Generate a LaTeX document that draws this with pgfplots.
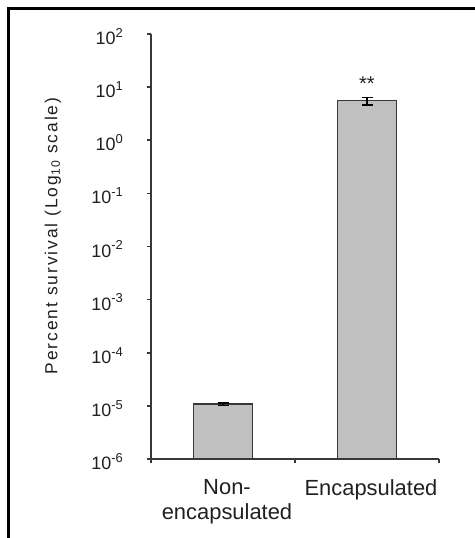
\documentclass[border=0pt]{standalone}
\usepackage{fontspec}
\setmainfont{Liberation Sans}
\newfontfamily\widefont[LetterSpace=11]{Liberation Sans}
\usepackage{pgfplots}
\pgfplotsset{compat=1.18}
\definecolor{barfill}{HTML}{C0C0C0}
\definecolor{axisgray}{HTML}{383838}
\definecolor{textgray}{HTML}{202020}
\newcommand{\tl}[1]{\hbox{\fontsize{18}{20}\selectfont\color{textgray}10\raisebox{0.4em}{\fontsize{13}{14}\selectfont #1}}}
\begin{document}
\begin{tikzpicture}
\useasboundingbox (0bp,0bp) rectangle (475bp,538bp);
\draw[line width=2.7bp] (8.7bp,-3bp) -- (8.7bp,529.3bp) -- (479bp,529.3bp);
\begin{axis}[
  at={(151bp,79bp)}, anchor=south west,
  scale only axis, width=288bp, height=425bp,
  ymode=log, log origin y=infty,
  xmin=-0.5, xmax=1.5, ymin=1e-6, ymax=1e2,
  axis x line*=bottom, axis y line*=left,
  axis line style={axisgray, line width=1.6bp},
  tick align=outside, major tick length=4bp,
  tick style={axisgray, line width=1.6bp},
  yminorticks=false, xminorticks=false,
  ytick={1e-6,1e-5,1e-4,1e-3,1e-2,1e-1,1,10,100},
  yticklabels={\tl{-6},\tl{-5},\tl{-4},\tl{-3},\tl{-2},\tl{-1},\tl{0},\tl{1},\tl{2}},
  yticklabel style={anchor=east, inner sep=0pt, xshift=-24bp, yshift=-2.5bp},
  xtick={-0.5,0.5,1.5}, xticklabels={},
  extra x ticks={0,1},
  extra x tick labels={{Non-\\encapsulated},{Encapsulated}},
  extra x tick style={major tick length=0pt},
  xticklabel style={font=\fontsize{22}{25}\selectfont, text=textgray, align=center, anchor=north, inner sep=0pt, yshift=-20bp, xshift=4bp},
  every axis y label/.style={at={(axis description cs:-0.341,0.525)}, rotate=90, anchor=center, text=textgray},
  ylabel={\widefont\fontsize{17.5}{20}\selectfont Percent survival (Log\textsubscript{10} scale)},
  ybar, bar width=0.41,
]
\addplot[fill=barfill, draw=axisgray, line width=1.8bp,
  error bars/.cd, y dir=both, y explicit,
  error bar style={black, line width=1.6bp},
  error mark options={rotate=90, mark size=5.5bp, line width=1.6bp, black}]
  coordinates {(0,1.08e-5) +- (0,0.06e-5) (1,5.6) += (0,0.8) -= (0,1.0)};
\node[font=\fontsize{20}{22}\selectfont, text=textgray, anchor=center] at (axis cs:1,11.5) {**};
\end{axis}
\end{tikzpicture}
\end{document}
